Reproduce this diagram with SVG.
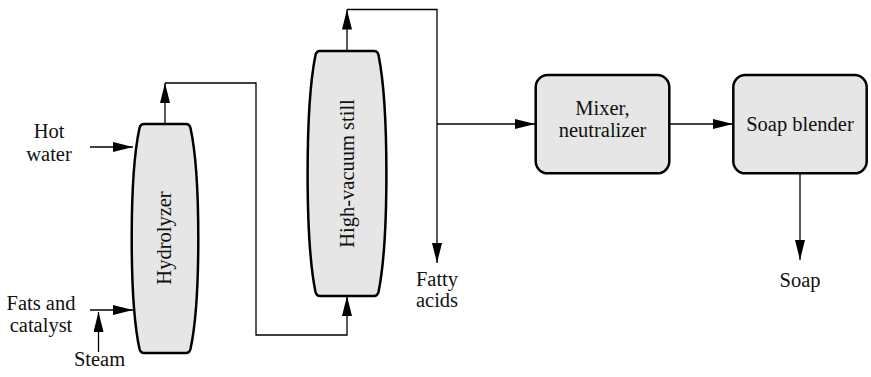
<svg xmlns="http://www.w3.org/2000/svg" width="871" height="377" viewBox="0 0 871 377">
<style>
.box{fill:#e6e6e6;stroke:#000;stroke-width:2.5;stroke-linejoin:round}
.conn{fill:none;stroke:#000;stroke-width:1.3}
.t{font-family:'Liberation Serif',Tinos,'Times New Roman',Times,serif;font-size:20.5px;fill:#111;text-anchor:middle}
</style>
<defs>
<marker id="ah" markerUnits="userSpaceOnUse" markerWidth="20" markerHeight="10" refX="20" refY="5" orient="auto">
<path d="M0,0 L20,5 L0,10 Z" fill="#000"/>
</marker>
</defs>
<g id="connectors">
<line class="conn" x1="90" y1="147" x2="133" y2="147" marker-end="url(#ah)"/>
<line class="conn" x1="90" y1="310" x2="133" y2="310" marker-end="url(#ah)"/>
<line class="conn" x1="98.5" y1="352" x2="98.5" y2="312" marker-end="url(#ah)"/>
<line class="conn" x1="165" y1="124" x2="165" y2="83" marker-end="url(#ah)"/>
<polyline class="conn" points="165,83 256,83 256,335 347,335 347,296" marker-end="url(#ah)"/>
<line class="conn" x1="347" y1="51" x2="347" y2="9.5" marker-end="url(#ah)"/>
<polyline class="conn" points="347,9.5 437,9.5 437,263" marker-end="url(#ah)"/>
<line class="conn" x1="437" y1="124" x2="535" y2="124" marker-end="url(#ah)"/>
<line class="conn" x1="669" y1="124" x2="733" y2="124" marker-end="url(#ah)"/>
<line class="conn" x1="800" y1="173" x2="800" y2="260" marker-end="url(#ah)"/>
</g>
<g id="hydrolyzer">
<path class="box" d="M144,124 L186,124 Q189.5,124 190.5,128 A15 126 0 0 1 190.5,349 Q189.5,353 186,353 L144,353 Q140.5,353 139.5,349 A15 126 0 0 1 139.5,128 Q140.5,124 144,124 Z"/>
<text class="t" font-family="Liberation Serif, serif" transform="translate(171,238) rotate(-90)">Hydrolyzer</text>
</g>
<g id="still">
<path class="box" d="M320,51 L374,51 Q377.5,51 378.5,55 A15.5 136 0 0 1 378.5,292 Q377.5,296 374,296 L320,296 Q316.5,296 315.5,292 A15.5 136 0 0 1 315.5,55 Q316.5,51 320,51 Z"/>
<text class="t" transform="translate(354,173.5) rotate(-90)">High-vacuum still</text>
</g>
<g id="mixer">
<rect class="box" x="535.7" y="75" width="133.6" height="98.3" rx="12"/>
<text class="t" x="602.5" y="115">Mixer,</text>
<text class="t" x="602.5" y="136.5">neutralizer</text>
</g>
<g id="blender">
<rect class="box" x="733.3" y="75" width="133.4" height="98.3" rx="12"/>
<text class="t" x="800" y="131">Soap blender</text>
</g>
<g id="labels">
<text class="t" x="49" y="138">Hot</text>
<text class="t" x="49" y="160.5">water</text>
<text class="t" x="41" y="310">Fats and</text>
<text class="t" x="41" y="331.5">catalyst</text>
<text class="t" x="99.5" y="366">Steam</text>
<text class="t" x="437" y="286">Fatty</text>
<text class="t" x="437" y="307">acids</text>
<text class="t" x="800" y="286.5">Soap</text>
</g>
</svg>
